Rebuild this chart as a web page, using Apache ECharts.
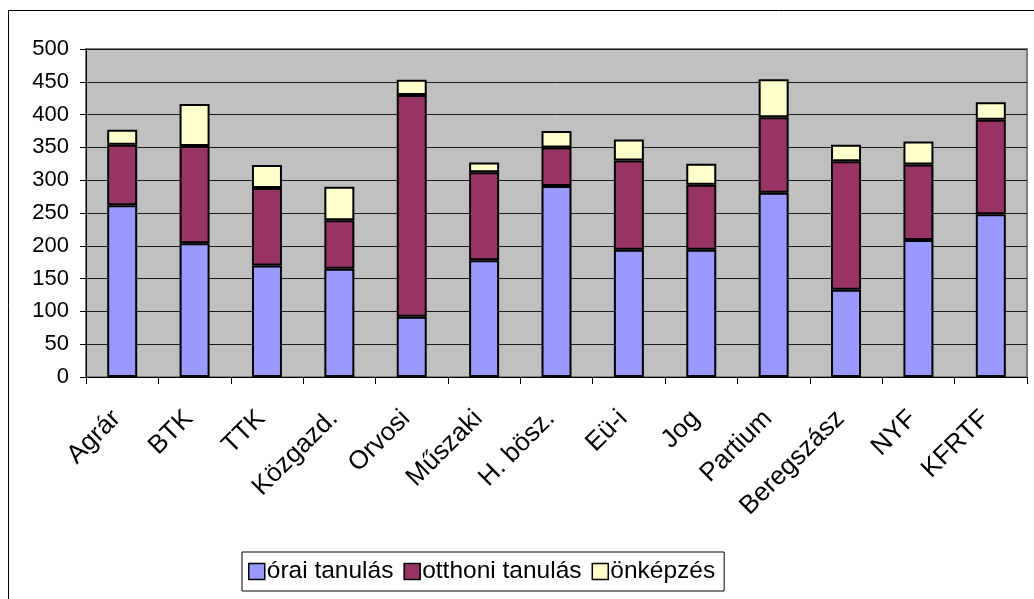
<!DOCTYPE html>
<html>
<head>
<meta charset="utf-8">
<script src="https://cdn.jsdelivr.net/npm/echarts@6/dist/echarts.min.js"></script>
<style>
html,body{margin:0;padding:0;background:#fff;}
#chart{width:1034px;height:599px;}
</style>
</head>
<body>
<div id="chart"></div>
<script>
const categories = ['Agrár','BTK','TTK','Közgazd.','Orvosi','Műszaki','H. bösz.','Eü-i','Jog','Partium','Beregszász','NYF','KFRTF'];
const oraiTanulas   = [262, 204, 170, 165, 92, 178, 291, 194, 194, 281, 133, 209, 248];
const otthoniTanulas = [92, 148, 118, 74, 338, 134, 59, 136, 99, 115, 196, 115, 144];
const onkepzes      = [23, 64, 35, 51, 23, 15, 25, 32, 32, 58, 25, 35, 27];
const seriesNames = ['órai tanulás','otthoni tanulás','önképzés'];

const font = 'Liberation Sans, Arial, sans-serif';
const chart = echarts.init(document.getElementById('chart'), null, {renderer:'canvas'});
const barStyle = (c) => ({color:c, borderColor:'#000', borderWidth:2});
chart.setOption({
  animation:false,
  backgroundColor:'#fff',
  graphic:[{
    type:'rect', z:-1, silent:true,
    shape:{x:8.5, y:10.5, width:1200, height:1000},
    style:{fill:'none', stroke:'#000', lineWidth:1}
  }],
  grid:{left:86, right:7, top:49, bottom:222, show:true, backgroundColor:'#C0C0C0', borderColor:'#808080', borderWidth:2},
  legend:{
    left:242, top:552, padding:[7,9,7,6],
    borderColor:'#000', borderWidth:1, backgroundColor:'#fff',
    itemWidth:16, itemHeight:16, itemGap:10,
    icon:'rect',
    itemStyle:{borderColor:'#000', borderWidth:1.5},
    textStyle:{fontFamily:font, fontSize:24.5, color:'#000', padding:[0,0,0,-3]},
    data:seriesNames
  },
  xAxis:{
    type:'category', data:categories,
    axisLine:{lineStyle:{color:'#000', width:1}},
    axisTick:{show:true, length:7, lineStyle:{color:'#000'}},
    axisLabel:{rotate:45, fontFamily:font, fontSize:26, color:'#000', margin:32, padding:[0,8,0,0], interval:0},
    splitLine:{show:false}
  },
  yAxis:{
    type:'value', min:0, max:500, interval:50,
    axisLine:{show:true, lineStyle:{color:'#000', width:1}},
    axisTick:{show:true, length:6, lineStyle:{color:'#000'}},
    axisLabel:{fontFamily:font, fontSize:22, color:'#000', margin:17},
    splitLine:{show:true, lineStyle:{color:'#1a1a1a', width:1}}
  },
  series:[
    {name:seriesNames[0], type:'bar', stack:'s', data:oraiTanulas, barWidth:30, itemStyle:barStyle('#9999FF')},
    {name:seriesNames[1], type:'bar', stack:'s', data:otthoniTanulas, barWidth:30, itemStyle:barStyle('#993366')},
    {name:seriesNames[2], type:'bar', stack:'s', data:onkepzes, barWidth:30, itemStyle:barStyle('#FFFFCC')}
  ]
});
</script>
</body>
</html>
